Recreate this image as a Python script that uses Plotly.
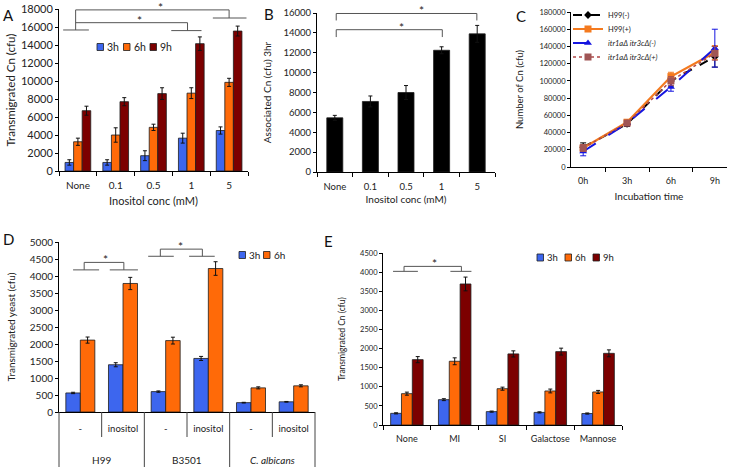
import plotly.graph_objects as go

W, H = 730, 467
FONT = "Lato, 'Open Sans', sans-serif"

# ---------------- data ----------------
# Panel A
a_cats = ["None", "0.1", "0.5", "1", "5"]
a_3h = [950, 950, 1700, 3650, 4500]
a_3h_err = [300, 300, 550, 550, 400]
a_6h = [3250, 4000, 4850, 8650, 9850]
a_6h_err = [400, 800, 350, 600, 450]
a_9h = [6700, 7700, 8600, 14150, 15550]
a_9h_err = [500, 450, 650, 750, 550]

# Panel B
b_cats = ["None", "0.1", "0.5", "1", "5"]
b_vals = [5450, 7100, 8000, 12250, 13900]
b_err = [250, 550, 700, 350, 850]

# Panel C
c_cats = ["0h", "3h", "6h", "9h"]
c_h99_neg = [23000, 50000, 100000, 128000]
c_h99_neg_err = [5000, 3000, 6000, 12000]
c_h99_pos = [22000, 52000, 105000, 133000]
c_h99_pos_err = [4000, 3000, 5000, 8000]
c_itr_neg = [18000, 51000, 93000, 138000]
c_itr_neg_err = [5000, 3000, 5000, 22000]
c_itr_pos = [22000, 51000, 100000, 132000]
c_itr_pos_err = [4000, 3000, 5000, 8000]

# Panel D
d_outer = ["H99", "H99", "B3501", "B3501", "<i>C. albicans</i>", "<i>C. albicans</i>"]
d_inner = ["-", "inositol", "-", "inositol", "-", "inositol"]
d_3h = [560, 1390, 600, 1575, 275, 300]
d_3h_err = [20, 60, 20, 60, 10, 10]
d_6h = [2115, 3780, 2100, 4220, 710, 770]
d_6h_err = [90, 180, 100, 200, 30, 30]

# Panel E
e_cats = ["None", "MI", "SI", "Galactose", "Mannose"]
e_3h = [305, 663, 350, 330, 300]
e_3h_err = [15, 25, 15, 15, 15]
e_6h = [820, 1667, 950, 890, 865]
e_6h_err = [40, 90, 40, 50, 40]
e_9h = [1710, 3690, 1860, 1920, 1875]
e_9h_err = [80, 180, 80, 90, 90]

# ---------------- style ----------------
BLUE = "#3d66ee"
ORANGE = "#ff6a08"
DRED = "#7c0000"
OUT = "#1e1e1e"
BRK = "#555555"
TXT = "#222222"

A_MAX, B_MAX, C_MAX, D_MAX, E_MAX = 18000, 16000, 180000, 5000, 4500


def px(x):
    return x / W


def py(y):
    return 1 - y / H


def xd(a, b):
    return [a / W, b / W]


def yd(t, b):
    return [1 - b / H, 1 - t / H]


def err(arr, color="#111111", w=2):
    return dict(type="data", array=arr, visible=True, color=color, thickness=1, width=w)


def bar(x, y, e, color, name, xa, ya, **kw):
    return go.Bar(x=x, y=y, error_y=err(e), name=name,
                  marker=dict(color=color, line=dict(color=OUT, width=0.8)),
                  xaxis=xa, yaxis=ya, showlegend=False, **kw)


d_pos = list(range(len(d_inner)))

fig = go.Figure()

# A
fig.add_trace(bar(a_cats, a_3h, a_3h_err, BLUE, "3h", "x", "y"))
fig.add_trace(bar(a_cats, a_6h, a_6h_err, ORANGE, "6h", "x", "y"))
fig.add_trace(bar(a_cats, a_9h, a_9h_err, DRED, "9h", "x", "y"))
# B
fig.add_trace(bar(b_cats, b_vals, b_err, "#000000", "3hr", "x2", "y2", width=0.45))
# C
fig.add_trace(go.Scatter(x=c_cats, y=c_h99_neg, error_y=err(c_h99_neg_err, "#000000", 3),
                         mode="lines+markers", name="H99(-)",
                         line=dict(color="#000000", width=2, dash="dash"),
                         marker=dict(symbol="diamond", size=6, color="#000000"),
                         xaxis="x3", yaxis="y3", legend="legend"))
fig.add_trace(go.Scatter(x=c_cats, y=c_h99_pos, error_y=err(c_h99_pos_err, "#f47a1f", 3),
                         mode="lines+markers", name="H99(+)",
                         line=dict(color="#f47a1f", width=2.2),
                         marker=dict(symbol="square", size=7, color="#f47a1f"),
                         xaxis="x3", yaxis="y3", legend="legend2"))
fig.add_trace(go.Scatter(x=c_cats, y=c_itr_neg, error_y=err(c_itr_neg_err, "#1515e0", 3),
                         mode="lines+markers", name="<i>itr1aΔ itr3cΔ(-)</i>",
                         line=dict(color="#1515e0", width=2, dash="longdash"),
                         marker=dict(symbol="triangle-up", size=7, color="#1515e0"),
                         xaxis="x3", yaxis="y3", legend="legend3"))
fig.add_trace(go.Scatter(x=c_cats, y=c_itr_pos, error_y=err(c_itr_pos_err, "#a85050", 3),
                         mode="lines+markers", name="<i>itr1aΔ itr3cΔ(+)</i>",
                         line=dict(color="#b04848", width=1.5, dash="dot"),
                         marker=dict(symbol="square", size=7, color="#a05555"),
                         xaxis="x3", yaxis="y3", legend="legend4"))
# D
fig.add_trace(bar(d_pos, d_3h, d_3h_err, BLUE, "3h", "x4", "y4"))
fig.add_trace(bar(d_pos, d_6h, d_6h_err, ORANGE, "6h", "x4", "y4"))
# E
fig.add_trace(bar(e_cats, e_3h, e_3h_err, BLUE, "3h", "x5", "y5"))
fig.add_trace(bar(e_cats, e_6h, e_6h_err, ORANGE, "6h", "x5", "y5"))
fig.add_trace(bar(e_cats, e_9h, e_9h_err, DRED, "9h", "x5", "y5"))


def axstyle(**kw):
    d = dict(showline=True, linecolor="black", linewidth=1, ticks="outside",
             tickcolor="black", tickwidth=1, showgrid=False, zeroline=False,
             fixedrange=True, automargin=False)
    d.update(kw)
    return d


def ttl(text, size, standoff):
    return dict(text=text, font=dict(family=FONT, size=size, color=TXT), standoff=standoff)


def tf(size):
    return dict(family=FONT, size=size, color=TXT)


layout = dict(
    width=W, height=H, margin=dict(l=0, r=0, t=0, b=0, autoexpand=False),
    paper_bgcolor="white", plot_bgcolor="white",
    font=dict(family=FONT, color=TXT),
    barmode="group", bargap=0.32, bargroupgap=0,
    # A
    xaxis=axstyle(domain=xd(59, 248), anchor="y", type="category", tickson="boundaries",
                  ticklen=4, ticklabelstandoff=5, tickfont=tf(10),
                  title=ttl("Inositol conc (mM)", 11, 7)),
    yaxis=axstyle(domain=yd(9, 171), anchor="x", range=[0, A_MAX], dtick=2000, ticklen=3,
                  tickformat="d", tickfont=tf(11), title=ttl("Transmigrated Cn (cfu)", 11.5, 2)),
    # B
    xaxis2=axstyle(domain=xd(317, 495), anchor="y2", type="category", tickson="boundaries",
                   ticklen=4, ticklabelstandoff=6, tickfont=tf(9.5),
                   title=ttl("Inositol conc (mM)", 10, 4)),
    yaxis2=axstyle(domain=yd(13, 172), anchor="x2", range=[0, B_MAX], dtick=2000, ticklen=3,
                   tickformat="d", tickfont=tf(9.5), title=ttl("Associated Cn (cfu) 3hr", 10, 10)),
    # C
    xaxis3=axstyle(domain=xd(571, 727), anchor="y3", type="category", tickson="boundaries",
                   ticklen=4, ticklabelstandoff=5, tickfont=tf(9),
                   title=ttl("Incubation time", 10, 8)),
    yaxis3=axstyle(domain=yd(12, 167), anchor="x3", range=[0, C_MAX], dtick=20000, ticklen=3,
                   tickformat="d", tickfont=tf(7.5), title=ttl("Number of Cn (cfu)", 9.5, 14)),
    # D
    xaxis4=axstyle(domain=xd(59, 315), anchor="y4", type="linear", range=[-0.5, len(d_pos) - 0.5],
                   tickvals=d_pos, ticktext=d_inner, ticks="", ticklabelstandoff=8,
                   tickfont=tf(9.5)),
    yaxis4=axstyle(domain=yd(242, 412), anchor="x4", range=[0, D_MAX], dtick=500, ticklen=3,
                   tickformat="d", tickfont=tf(10), title=ttl("Transmigrated yeast (cfu)", 10, 12)),
    # E
    xaxis5=axstyle(domain=xd(383, 622), anchor="y5", type="category", tickson="boundaries",
                   ticklen=4, ticklabelstandoff=5, tickangle=0, tickfont=tf(9)),
    yaxis5=axstyle(domain=yd(253, 425), anchor="x5", range=[0, E_MAX], dtick=500, ticklen=3,
                   tickformat="d", tickfont=tf(7.5), title=ttl("Transmigrated Cn (cfu)", 8.5, 13)),
)

# C legends (one entry each, stacked)
leg_y = [15, 29, 43, 57]
for i, name in enumerate(["legend", "legend2", "legend3", "legend4"]):
    layout[name] = dict(x=px(568), y=py(leg_y[i]), xanchor="left", yanchor="middle",
                        bgcolor="rgba(0,0,0,0)", borderwidth=0,
                        font=dict(family=FONT, size=7.5, color=TXT))

fig.update_layout(**layout)

shapes = []
annots = []


def dom(ax, ncat, ymax):
    sfx = "" if ax == 1 else str(ax)
    return ("x%s domain" % sfx, "y%s domain" % sfx, ncat, ymax)


def seg(a, x0, y0, x1, y1):
    xr, yr, n, m = a
    shapes.append(dict(type="line", xref=xr, yref=yr,
                       x0=(x0 + 0.5) / n, x1=(x1 + 0.5) / n, y0=y0 / m, y1=y1 / m,
                       line=dict(color=BRK, width=1)))


def star(a, x, y, size=12):
    xr, yr, n, m = a
    annots.append(dict(x=(x + 0.5) / n, y=y / m, xref=xr, yref=yr, text="*", showarrow=False,
                       font=dict(family=FONT, size=size, color=TXT), yshift=2.5,
                       xanchor="center", yanchor="middle"))


# A brackets (category index / data value)
A = dom(1, len(a_cats), A_MAX)
seg(A, -0.06, 17900, 4.0, 17900)
seg(A, 4.0, 17900, 4.0, 17000)
seg(A, 3.57, 17000, 4.46, 17000)
seg(A, -0.06, 17900, -0.06, 15670)
seg(A, -0.06, 16480, 2.9, 16480)
seg(A, 2.9, 16480, 2.9, 15600)
seg(A, 2.47, 15600, 3.27, 15600)
seg(A, -0.39, 15670, 0.29, 15670)
star(A, 2.19, 17900)
star(A, 1.62, 16480)

# B brackets
B = dom(2, len(b_cats), B_MAX)
seg(B, 0.04, 15950, 3.99, 15950)
seg(B, 0.04, 15950, 0.04, 15250)
seg(B, 3.99, 15950, 3.99, 15250)
seg(B, 0.04, 14320, 3.02, 14320)
seg(B, 0.04, 14320, 0.04, 13580)
seg(B, 3.02, 14320, 3.02, 13580)
star(B, 2.44, 15950)
star(B, 1.88, 14320)

# D brackets
D = dom(4, len(d_pos), D_MAX)
seg(D, 0.09, 4400, 1.02, 4400)
seg(D, 0.09, 4400, 0.09, 4180)
seg(D, 1.02, 4400, 1.02, 4180)
seg(D, -0.17, 4180, 0.44, 4180)
seg(D, 0.69, 4180, 1.35, 4180)
star(D, 0.59, 4400)
seg(D, 1.875, 4790, 2.86, 4790)
seg(D, 1.875, 4790, 1.875, 4580)
seg(D, 2.86, 4790, 2.86, 4580)
seg(D, 1.59, 4580, 2.19, 4580)
seg(D, 2.55, 4580, 3.15, 4580)
star(D, 2.35, 4790)

# E bracket
E = dom(5, len(e_cats), E_MAX)
seg(E, -0.06, 4150, 1.14, 4150)
seg(E, -0.06, 4150, -0.06, 4020)
seg(E, 1.14, 4150, 1.14, 4020)
seg(E, -0.29, 4020, 0.23, 4020)
seg(E, 0.91, 4020, 1.35, 4020)
star(E, 0.57, 4150)

# D two-level category labels and separators
n_d = len(d_pos)
for i in range(n_d + 1):
    outer = i == 0 or i == n_d or d_outer[i - 1] != d_outer[i]
    shapes.append(dict(type="line", xref="x4 domain", yref="paper",
                       x0=i / n_d, x1=i / n_d, y0=py(412), y1=py(467 if outer else 437),
                       line=dict(color="#444444", width=1)))
groups = []
for i, g in enumerate(d_outer):
    if not groups or groups[-1][0] != g:
        groups.append([g, i, i])
    else:
        groups[-1][2] = i
for g, i0, i1 in groups:
    annots.append(dict(x=((i0 + i1) / 2 + 0.5) / n_d, y=py(460), xref="x4 domain", yref="paper",
                       text=g, showarrow=False, xanchor="center", yanchor="middle",
                       font=dict(family=FONT, size=10, color=TXT)))


# custom bar legends (paper pixel positions)
def legend_key(x, y, color, text, size):
    shapes.append(dict(type="rect", xref="paper", yref="paper",
                       x0=px(x), x1=px(x + 6.5), y0=py(y + 3.5), y1=py(y - 3.5),
                       fillcolor=color, line=dict(color=OUT, width=0.8)))
    annots.append(dict(x=px(x + 8), y=py(y), xref="paper", yref="paper", text=text,
                       showarrow=False, xanchor="left", yanchor="middle",
                       font=dict(family=FONT, size=size, color=TXT)))


legend_key(97, 47, BLUE, "3h", 10.5)
legend_key(123.5, 47, ORANGE, "6h", 10.5)
legend_key(150, 47, DRED, "9h", 10.5)

legend_key(239, 255, BLUE, "3h", 10)
legend_key(263.5, 255, ORANGE, "6h", 10)

legend_key(537, 257.5, BLUE, "3h", 9.5)
legend_key(565, 257.5, ORANGE, "6h", 9.5)
legend_key(593, 257.5, DRED, "9h", 9.5)

# panel letters
for letter, x, y in [("A", 8, 15), ("B", 269, 14), ("C", 521, 16), ("D", 8, 239), ("E", 328, 241)]:
    annots.append(dict(x=px(x), y=py(y), xref="paper", yref="paper", text=letter,
                       showarrow=False, xanchor="center", yanchor="middle",
                       font=dict(family=FONT, size=15, color="#111")))

fig.update_layout(shapes=shapes, annotations=annots)

fig.write_html("out.html", config={"displayModeBar": False},
               post_script="document.body.style.margin='0px';document.body.style.overflow='hidden';")
